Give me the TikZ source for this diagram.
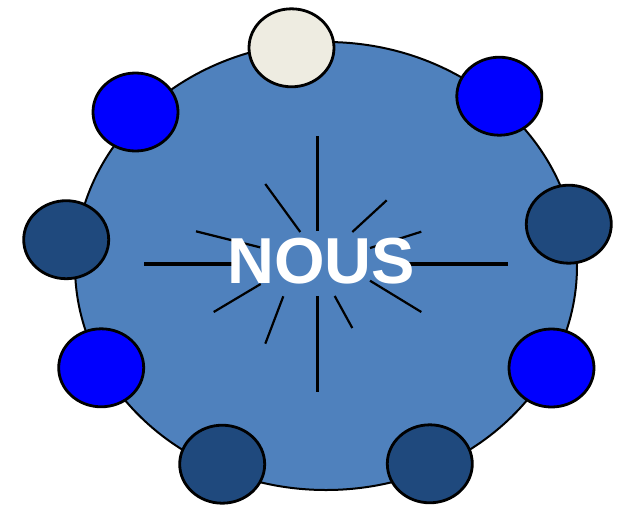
\documentclass[tikz,border=0pt]{standalone}
\usepackage{fontspec}
\setmainfont{Liberation Sans}
\usetikzlibrary{shapes.geometric}
\definecolor{discblue}{RGB}{79,129,189}
\definecolor{seatnavy}{RGB}{31,73,125}
\definecolor{seatblue}{RGB}{0,0,255}
\definecolor{seatcream}{RGB}{238,236,225}

\begin{document}
\begin{tikzpicture}[x=1pt,y=-1pt,
    seat/.style={ellipse,draw=black,line width=2.8pt,minimum width=85pt,
      minimum height=78pt,inner sep=0pt},
    bigray/.style={line width=3.2pt,black},
    ray/.style={line width=2.2pt,black}]
  \useasboundingbox (0,0) rectangle (622,507);
  % the table
  \node[ellipse,draw=black,line width=2pt,fill=discblue,minimum width=502pt,
    minimum height=448pt,inner sep=0pt] (table) at (326,266) {};
  % rays round the word
  \foreach \xa/\ya/\xb/\yb in {317.7/136/317.7/231,317.7/296/317.7/392,
      144/264/238/264,405/264/508/264}
    \draw[bigray] (\xa,\ya) -- (\xb,\yb);
  \foreach \xa/\ya/\xb/\yb in {265.3/184/300.3/232,352.3/232/386.7/200.3,
      196/231.3/260/247.3,370/248/421.3/231.7,
      213.7/312/260.7/284,265.3/343.7/283.3/296.3,
      334.7/296/352.3/328,370/280.7/421.3/312}
    \draw[ray] (\xa,\ya) -- (\xb,\yb);
  \node[text=white,font=\fontsize{65}{65}\selectfont\bfseries,inner sep=0pt]
    (nous) at (321,261) {NOUS};
  % seats round the table
  \foreach \name/\px/\py/\col in {top/291.5/47.8/seatcream,
      upleft/135.5/112/seatblue,upright/499.3/96.2/seatblue,
      left/66.2/239.7/seatnavy,right/568.8/224.2/seatnavy,
      lowleft/101.2/367.8/seatblue,lowright/551.5/368/seatblue,
      botleft/222.2/464.2/seatnavy,botright/429.8/463.8/seatnavy}
    \node[seat,fill=\col] (\name) at (\px,\py) {};
\end{tikzpicture}
\end{document}
